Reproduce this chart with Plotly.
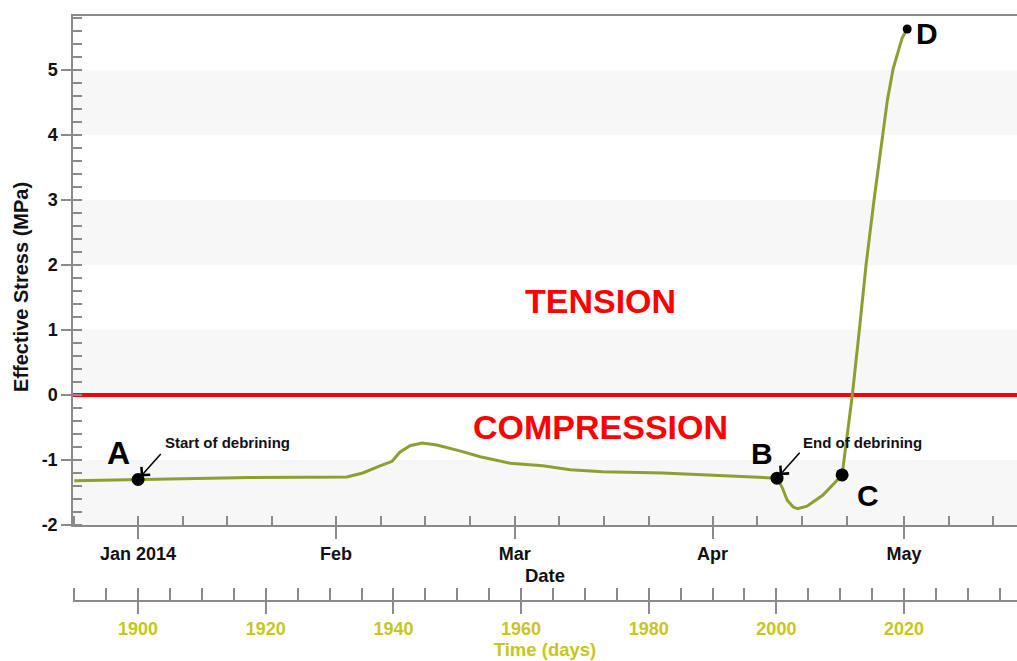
import pandas as pd
import plotly.graph_objects as go

# Elapsed time (days) and effective stress (MPa) along the stress history
days = [1890.0, 1900.0, 1917.5, 1932.7, 1935.2, 1937.9, 1939.8, 1941.0, 1942.6,
        1944.5, 1946.8, 1950.4, 1953.6, 1958.3, 1963.4, 1967.7, 1972.8, 1982.2,
        2000.1, 2000.9, 2001.7, 2002.6, 2003.3, 2004.8, 2007.3, 2010.3, 2010.9,
        2011.4, 2011.9, 2013.0, 2014.05, 2015.3, 2016.3, 2017.4, 2018.3, 2019.1,
        2019.7, 2020.5]
stress = [-1.32, -1.30, -1.27, -1.26, -1.20, -1.09, -1.02, -0.88, -0.78,
          -0.74, -0.77, -0.86, -0.95, -1.05, -1.09, -1.15, -1.18, -1.20,
          -1.28, -1.42, -1.62, -1.72, -1.75, -1.71, -1.54, -1.23, -0.77,
          -0.38, 0.00, 1.00, 2.00, 3.00, 3.77, 4.54, 5.02, 5.31,
          5.49, 5.63]

# Labelled stages of the history (letter, index into the curve)
stage_letters = ["A", "B", "C", "D"]
stage_index = [1, 18, 25, 37]

# Notes attached to stages A and B
note_texts = ["Start of debrining", "End of debrining"]
note_stage = [0, 1]

# Axis ticks
month_starts = ["2014-01-01", "2014-02-01", "2014-03-01", "2014-04-01", "2014-05-01"]
month_labels = ["Jan 2014", "Feb", "Mar", "Apr", "May"]
stress_ticks = [-2, -1, 0, 1, 2, 3, 4, 5]
day_ticks = [1900, 1920, 1940, 1960, 1980, 2000, 2020]

DAY0 = 1900                      # elapsed day that falls on 1 Jan 2014
DATE0 = pd.Timestamp("2014-01-01")
DAY_RANGE = [1889.8, 2037.7]
STRESS_RANGE = [-2, 5.83]


def to_date(d):
    return DATE0 + pd.Timedelta(days=d - DAY0)


dates = [to_date(d) for d in days]

LINE = "#8e9e30"
OLIVE = "#c6c61c"
AXIS = "#8a8a8a"
FONT = "Liberation Sans"

fig = go.Figure()

# stress history on the calendar axis
fig.add_trace(go.Scatter(
    x=dates, y=stress, mode="lines",
    line=dict(color=LINE, width=3),
    xaxis="x", yaxis="y", hoverinfo="skip",
))

# stage markers on the elapsed-time axis
fig.add_trace(go.Scatter(
    x=[days[i] for i in stage_index], y=[stress[i] for i in stage_index],
    mode="markers",
    marker=dict(color="black", size=[13, 13, 13, 9], opacity=1,
                line=dict(width=0)),
    xaxis="x2", yaxis="y", hoverinfo="skip",
))

# alternating horizontal bands
for lo in stress_ticks[::2]:
    fig.add_shape(type="rect", xref="x domain", yref="y", x0=0, x1=1,
                  y0=lo, y1=lo + 1, fillcolor="#f7f7f7", line_width=0,
                  layer="below")

annotations = []
# stage letters
letter_offsets = [(-20, 27), (-15, 25), (26, -21), (20, -4)]
letter_sizes = [32, 30, 30, 30]
for letter, idx, (dx, dy), fs in zip(stage_letters, stage_index,
                                     letter_offsets, letter_sizes):
    annotations.append(dict(
        x=days[idx], y=stress[idx], xref="x2", yref="y", text=letter,
        showarrow=False, xshift=dx, yshift=dy,
        font=dict(family=FONT, size=fs, color="black", weight="bold"),
    ))

# arrows and notes for debrining start / end
note_offsets = [(89, 37), (85, 36)]
for text, s, (tx, ty) in zip(note_texts, note_stage, note_offsets):
    idx = stage_index[s]
    annotations.append(dict(
        x=days[idx], y=stress[idx], xref="x2", yref="y", text="",
        showarrow=True, ax=24, ay=-27, arrowhead=4, arrowsize=1.5,
        arrowwidth=1.5, arrowcolor="black", standoff=4,
    ))
    annotations.append(dict(
        x=days[idx], y=stress[idx], xref="x2", yref="y", text=text,
        showarrow=False, xshift=tx, yshift=ty,
        font=dict(family=FONT, size=15, color="#111", weight="bold"),
    ))

# regime labels either side of zero stress
for text, yv in [("TENSION", 1.45), ("COMPRESSION", -0.49)]:
    annotations.append(dict(
        x=0.559, y=yv, xref="x domain", yref="y", text=text,
        showarrow=False,
        font=dict(family=FONT, size=34, color="#ff0000", weight="bold"),
    ))

# stress axis title
annotations.append(dict(
    x=-0.0551, y=0.5368, xref="paper", yref="paper",
    text="Effective Stress (MPa)", textangle=-90, showarrow=False,
    xanchor="center", yanchor="middle",
    font=dict(family=FONT, size=20, color="#111", weight="bold"),
))

# minor tick positions: 8th, 15th and 22nd of each month
week_ticks = [to_date(DAY_RANGE[0] + 0.2).normalize()]
for m in pd.date_range("2014-01-01", "2014-05-01", freq="MS"):
    for dd in (0, 7, 14, 21):
        week_ticks.append(m + pd.Timedelta(days=dd))

stress_minor = [round(-2 + 0.2 * k, 1) for k in range(0, 40)]

fig.update_layout(
    width=1017, height=661,
    margin=dict(l=73, r=0, t=16, b=60),
    paper_bgcolor="white", plot_bgcolor="white",
    showlegend=False,
    font=dict(family=FONT),
    annotations=annotations,
    xaxis=dict(
        type="date", anchor="y",
        range=[to_date(DAY_RANGE[0]), to_date(DAY_RANGE[1])],
        showline=True, linecolor=AXIS, linewidth=1.5, mirror=True,
        showgrid=False, zeroline=False,
        tickmode="array", tickvals=month_starts, ticktext=month_labels,
        ticks="outside", ticklen=12, tickwidth=1.5, tickcolor=AXIS,
        tickfont=dict(family=FONT, size=18, color="#111", weight="bold"),
        minor=dict(tickmode="array", tickvals=week_ticks, ticks="inside",
                   ticklen=9, tickwidth=1.5, tickcolor=AXIS, showgrid=False),
        title=dict(text="Date", standoff=6,
                   font=dict(family=FONT, size=18.5, color="#111", weight="bold")),
    ),
    xaxis2=dict(
        anchor="free", position=0, overlaying="x", side="bottom",
        range=DAY_RANGE,
        showline=True, linecolor=AXIS, linewidth=1.5,
        showgrid=False, zeroline=False,
        tickmode="array", tickvals=day_ticks,
        ticks="outside", ticklen=12, tickwidth=1.5, tickcolor=AXIS,
        tickfont=dict(family=FONT, size=18, color=OLIVE, weight="bold"),
        minor=dict(tickmode="linear", tick0=1890, dtick=5, ticks="inside",
                   ticklen=12, tickwidth=1.5, tickcolor=AXIS, showgrid=False),
        title=dict(text="Time (days)", standoff=4,
                   font=dict(family=FONT, size=18.5, color=OLIVE, weight="bold")),
    ),
    yaxis=dict(
        domain=[76 / 585, 1], range=STRESS_RANGE,
        showline=True, linecolor=AXIS, linewidth=1.5,
        showgrid=False,
        zeroline=True, zerolinecolor="#ff0000", zerolinewidth=4,
        tickmode="array", tickvals=stress_ticks,
        ticktext=[str(v) for v in stress_ticks],
        ticks="outside", ticklen=10, tickwidth=1.5, tickcolor=AXIS,
        tickfont=dict(family=FONT, size=18, color="#111", weight="bold"),
        minor=dict(tickmode="array", tickvals=stress_minor, ticks="inside",
                   ticklen=9, tickwidth=1.5, tickcolor=AXIS, showgrid=False),
    ),
)

fig.write_html("out.html")
